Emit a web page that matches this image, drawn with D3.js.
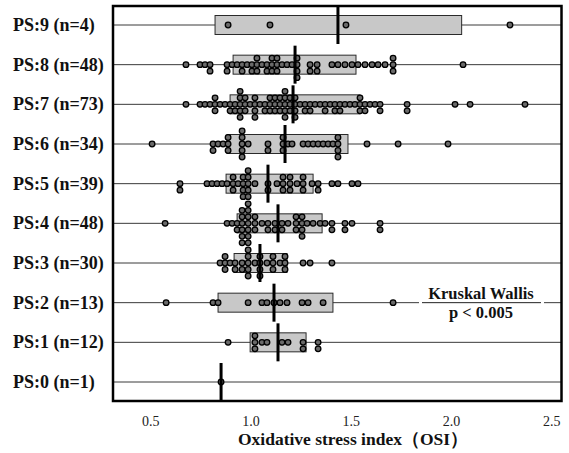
<!DOCTYPE html>
<html>
<head>
<meta charset="utf-8">
<script src="https://cdn.jsdelivr.net/npm/d3@7"></script>
<style>
  html, body { margin: 0; padding: 0; background: #fff; }
  svg { display: block; }
</style>
</head>
<body>
<svg id="chart" width="569" height="453"></svg>
<script>
// groups from top row to bottom row
const groups = ['PS:9', 'PS:8', 'PS:7', 'PS:6', 'PS:5', 'PS:4', 'PS:3', 'PS:2', 'PS:1', 'PS:0'];
const groupN = [4, 48, 73, 34, 39, 48, 30, 13, 12, 1];

// box: lower quartile, median, upper quartile (PS:0 has no box)
const q1 =      [0.823, 0.913, 0.898, 0.883, 0.878, 0.933, 0.918, 0.838, 0.998, null];
const medians = [1.436, 1.222, 1.212, 1.172, 1.087, 1.137, 1.047, 1.117, 1.137, 0.853];
const q3 =      [2.053, 1.526, 1.546, 1.486, 1.312, 1.357, 1.182, 1.411, 1.277, null];

// individual OSI values (equal values are stacked)
const ps9 = [0.888, 1.097, 1.476, 2.294];
const ps8 = [0.678, 0.748, 0.773, 0.798, 0.798, 0.883, 0.883, 0.908, 0.933, 0.958, 0.958, 0.983,
  1.007, 1.007, 1.032, 1.032, 1.032, 1.057, 1.082, 1.082, 1.107, 1.107, 1.107, 1.132, 1.132, 1.132,
  1.157, 1.182, 1.207, 1.232, 1.232, 1.232, 1.232, 1.297, 1.297, 1.332, 1.332, 1.406, 1.436, 1.471,
  1.506, 1.536, 1.571, 1.606, 1.636, 1.671, 1.711, 1.711, 1.711, 2.060];
const ps7 = [0.678, 0.748, 0.773, 0.798, 0.823, 0.823, 0.823, 0.848, 0.873, 0.898, 0.898, 0.923, 0.923,
  0.948, 0.948, 0.948, 0.948, 0.948, 0.973, 0.973, 0.973, 0.998, 1.022, 1.022, 1.022, 1.022, 1.047,
  1.072, 1.072, 1.097, 1.097, 1.097, 1.122, 1.122, 1.122, 1.147, 1.147, 1.147, 1.172, 1.172, 1.172,
  1.172, 1.172, 1.197, 1.197, 1.197, 1.222, 1.222, 1.222, 1.222, 1.247, 1.272, 1.272, 1.297, 1.297,
  1.322, 1.347, 1.372, 1.372, 1.397, 1.421, 1.421, 1.446, 1.446, 1.471, 1.496, 1.521, 1.546, 1.546,
  1.546, 1.571, 1.571, 1.596, 1.621, 1.646, 1.646, 1.781, 1.781, 2.020, 2.095, 2.369];
const ps6 = [0.509, 0.813, 0.813, 0.838, 0.863, 0.888, 0.888, 0.888, 0.958, 0.958, 0.958, 0.958, 0.958,
  0.988, 1.087, 1.087, 1.162, 1.162, 1.162, 1.187, 1.207, 1.262, 1.287, 1.312, 1.337, 1.362, 1.387,
  1.411, 1.436, 1.436, 1.436, 1.436, 1.581, 1.736, 1.985];
const ps5 = [0.648, 0.648, 0.783, 0.808, 0.833, 0.858, 0.883, 0.913, 0.913, 0.913, 0.938, 0.963, 0.963,
  0.963, 0.963, 0.988, 0.988, 0.988, 0.988, 0.988, 1.022, 1.087, 1.087, 1.132, 1.162, 1.162, 1.162,
  1.197, 1.197, 1.197, 1.232, 1.262, 1.262, 1.262, 1.307, 1.337, 1.337, 1.406, 1.436, 1.506, 1.536];
const ps4 = [0.574, 0.883, 0.908, 0.933, 0.933, 0.958, 0.958, 0.958, 0.958, 0.958, 0.958, 0.988, 0.988,
  0.988, 0.988, 0.988, 0.988, 0.988, 1.022, 1.022, 1.022, 1.057, 1.087, 1.087, 1.122, 1.122, 1.157,
  1.157, 1.187, 1.227, 1.227, 1.227, 1.257, 1.257, 1.257, 1.257, 1.282, 1.312, 1.347, 1.372, 1.406,
  1.406, 1.471, 1.471, 1.506, 1.646, 1.646];
const ps3 = [0.848, 0.873, 0.873, 0.873, 0.898, 0.923, 0.923, 0.958, 0.958, 0.988, 0.988, 0.988, 0.988,
  0.988, 1.022, 1.047, 1.047, 1.047, 1.047, 1.082, 1.112, 1.112, 1.112, 1.147, 1.172, 1.172, 1.172,
  1.262, 1.297, 1.406];
const ps2 = [0.579, 0.813, 0.838, 0.988, 1.057, 1.082, 1.117, 1.147, 1.182, 1.257, 1.287, 1.362, 1.711];
const ps1 = [0.888, 1.022, 1.022, 1.022, 1.057, 1.082, 1.157, 1.187, 1.262, 1.262, 1.337, 1.337];
const ps0 = [0.853];
const groupValues = [ps9, ps8, ps7, ps6, ps5, ps4, ps3, ps2, ps1, ps0];

const xTicks = [0.5, 1.0, 1.5, 2.0, 2.5];

const serif = "'Liberation Serif', 'Times New Roman', serif";

const frame = { left: 113, right: 561.5, top: 6, bottom: 401 };

const svg = d3.select('#chart');

const x = d3.scaleLinear()
  .domain([0.314, 2.551])
  .range([frame.left, frame.right]);

const y = d3.scalePoint()
  .domain(groups)
  .range([25, 382]);

const dotStep = 6.5;
const boxHalf = 9.5;
const medHalf = 19;

// row lines
svg.append('g')
  .selectAll('line')
  .data(groups)
  .join('line')
  .attr('x1', frame.left).attr('x2', frame.right)
  .attr('y1', d => y(d)).attr('y2', d => y(d))
  .attr('stroke', '#3a3a3a')
  .attr('stroke-width', 1);

// boxes
const boxData = groups.map((g, i) => ({ g, lo: q1[i], hi: q3[i] })).filter(d => d.lo != null);
svg.append('g')
  .selectAll('rect')
  .data(boxData)
  .join('rect')
  .attr('x', d => x(d.lo))
  .attr('width', d => x(d.hi) - x(d.lo))
  .attr('y', d => y(d.g) - boxHalf)
  .attr('height', boxHalf * 2)
  .attr('fill', '#c8c8c8')
  .attr('stroke', '#2a2a2a')
  .attr('stroke-width', 1);

// dots, stacked: on the line, below, above, further below, ...
const dots = [];
groups.forEach((g, i) => {
  d3.group(groupValues[i], v => v).forEach((vals, v) => {
    vals.forEach((_, k) => {
      const off = k === 0 ? 0 : (k % 2 === 1 ? Math.ceil(k / 2) : -k / 2);
      dots.push({ g, v, off });
    });
  });
});
svg.append('g')
  .selectAll('circle')
  .data(dots)
  .join('circle')
  .attr('cx', d => x(d.v))
  .attr('cy', d => y(d.g) + d.off * dotStep)
  .attr('r', 2.8)
  .attr('fill', '#6a6a6a')
  .attr('stroke', '#000')
  .attr('stroke-width', 1.3);

// median bars
svg.append('g')
  .selectAll('line')
  .data(groups)
  .join('line')
  .attr('x1', (d, i) => x(medians[i])).attr('x2', (d, i) => x(medians[i]))
  .attr('y1', d => y(d) - medHalf).attr('y2', d => y(d) + medHalf)
  .attr('stroke', '#000')
  .attr('stroke-width', 3);

// group labels
svg.append('g')
  .selectAll('text')
  .data(groups)
  .join('text')
  .attr('x', 13)
  .attr('y', d => y(d) + 6)
  .style('font-family', serif)
  .style('font-weight', 'bold')
  .style('font-size', '18px')
  .style('fill', '#111')
  .text((d, i) => `${d} (n=${groupN[i]})`);

// Kruskal Wallis note
const note = svg.append('g');
note.append('rect')
  .attr('x', 419).attr('y', 283).attr('width', 125).attr('height', 42)
  .attr('fill', '#fff');
note.append('line')
  .attr('x1', 422).attr('x2', 541)
  .attr('y1', y('PS:2')).attr('y2', y('PS:2'))
  .attr('stroke', '#222').attr('stroke-width', 1);
note.append('text')
  .attr('x', 481).attr('y', 298.5)
  .attr('text-anchor', 'middle')
  .style('font-family', serif).style('font-weight', 'bold').style('font-size', '16.5px')
  .style('fill', '#111')
  .text('Kruskal Wallis');
note.append('text')
  .attr('x', 481).attr('y', 318)
  .attr('text-anchor', 'middle')
  .style('font-family', serif).style('font-weight', 'bold').style('font-size', '16.5px')
  .style('fill', '#111')
  .text('p < 0.005');

// x axis
const xAxis = svg.append('g')
  .attr('transform', `translate(0,${frame.bottom})`)
  .call(d3.axisBottom(x).tickValues(xTicks).tickFormat(d3.format('.1f')).tickSize(0).tickPadding(15));
xAxis.select('.domain').remove();
xAxis.selectAll('text')
  .style('font-family', serif)
  .style('font-size', '14px')
  .style('fill', '#222');

svg.append('text')
  .attr('x', 353).attr('y', 445)
  .attr('text-anchor', 'middle')
  .style('font-family', serif).style('font-weight', 'bold').style('font-size', '17.5px')
  .style('fill', '#111')
  .text('Oxidative stress index（OSI）');

// frame
svg.append('rect')
  .attr('x', frame.left).attr('y', frame.top)
  .attr('width', frame.right - frame.left)
  .attr('height', frame.bottom - frame.top)
  .attr('fill', 'none')
  .attr('stroke', '#000')
  .attr('stroke-width', 2.5);
</script>
</body>
</html>
